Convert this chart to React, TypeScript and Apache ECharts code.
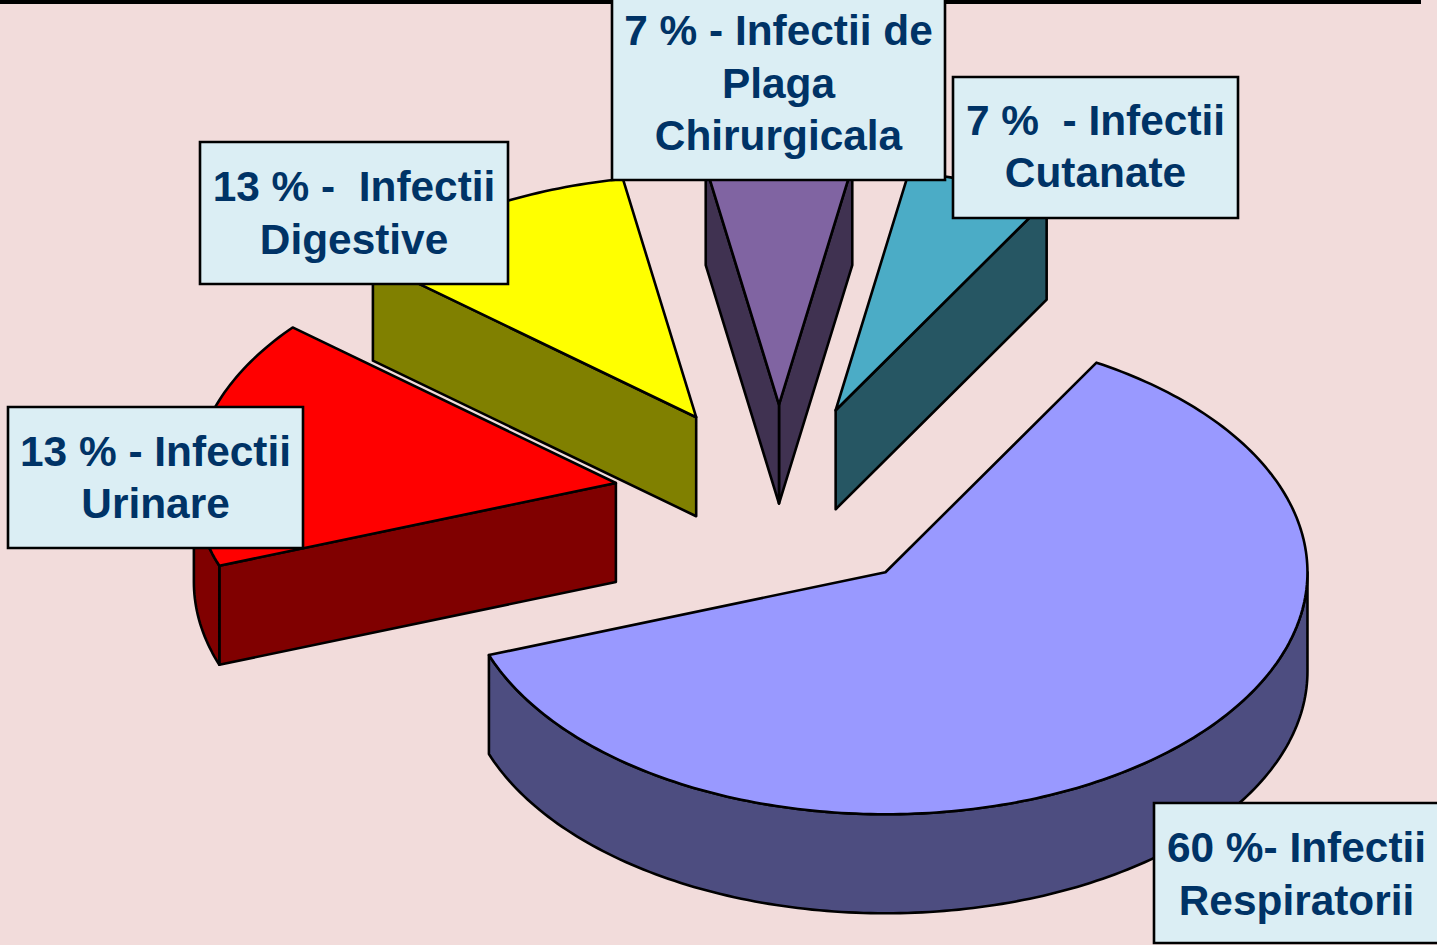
import React, { useEffect, useRef } from "react";
import * as echarts from "echarts";

// Drawn sweep of each wedge (degrees of the pie as pictured), counter-clockwise from the first wedge
const sliceNames = ["Cutanate", "Plaga Chirurgicala", "Digestive", "Urinare", "Respiratorii"];
const sliceSweeps = [20, 20, 40, 60, 220];
const sliceLabels = [
  "7 %  - Infectii\nCutanate",
  "7 % - Infectii de\nPlaga\nChirurgicala",
  "13 % -  Infectii\nDigestive",
  "13 % - Infectii\nUrinare",
  "60 %- Infectii\nRespiratorii",
];
const topColors = ["#4BACC6", "#8064A2", "#FFFF00", "#FF0000", "#9999FF"];
const sideColors = ["#265663", "#403251", "#808000", "#800000", "#4D4D80"];

// Layout of the 3D pie
const firstAngle = 60;
const pieCx = 779;
const pieCy = 499.5;
const rx = 422;
const ry = 242;
const depth = 99;
const explode = 0.3925;
const stroke = { stroke: "#000", lineWidth: 2.6, lineJoin: "round" as const };

// Label boxes: x, y, width, height, text shift
const labelBoxes = [
  [953, 77, 285, 141, -2],
  [612, -6, 333, 186, -5],
  [200, 142, 308, 142, -1],
  [8, 407, 295, 141, -1],
  [1154, 803, 285, 140, 0],
];
const labelFont = 42.4;
const labelLine = 52.5;

const rad = (d: number) => (d * Math.PI) / 180;

function renderSlice(params: any, api: any) {
  const i = params.dataIndex;
  const sweep = api.value(0);
  let t0 = firstAngle;
  for (let k = 0; k < i; k++) t0 += sliceSweeps[k];
  const t1 = t0 + sweep;
  const mid = rad((t0 + t1) / 2);
  const ax = pieCx + explode * rx * Math.cos(mid);
  const ay = pieCy - explode * ry * Math.sin(mid);
  const pt = (t: number, dz = 0) => [ax + rx * Math.cos(rad(t)), ay - ry * Math.sin(rad(t)) + dz];

  const children: any[] = [];
  const side = { fill: sideColors[i], ...stroke };
  const wall = (t: number) =>
    children.push({
      type: "polygon",
      shape: { points: [[ax, ay], pt(t), pt(t, depth), [ax, ay + depth]] },
      style: side,
    });
  if (Math.cos(rad(t0)) > 0) wall(t0);
  if (Math.cos(rad(t1)) < 0) wall(t1);

  // Outer rim: only the part on the lower half of the ellipse faces the viewer
  const rimStart = Math.max(t0, 180);
  const rimEnd = Math.min(t1, 360);
  if (rimEnd > rimStart) {
    const upper: number[][] = [];
    const lower: number[][] = [];
    for (let t = rimStart; t < rimEnd; t += 1) {
      upper.push(pt(t));
      lower.push(pt(t, depth));
    }
    upper.push(pt(rimEnd));
    lower.push(pt(rimEnd, depth));
    children.push({
      type: "polygon",
      shape: { points: upper.concat(lower.reverse()) },
      style: side,
    });
  }

  const top: number[][] = [[ax, ay]];
  for (let t = t0; t < t1; t += 1) top.push(pt(t));
  top.push(pt(t1));
  children.push({ type: "polygon", shape: { points: top }, style: { fill: topColors[i], ...stroke } });

  return { type: "group", children };
}

export default function App() {
  const ref = useRef<HTMLDivElement>(null);
  useEffect(() => {
    const chart = echarts.init(ref.current!, null, { renderer: "svg" });
    const graphics: any[] = [
      { type: "rect", z: 1, shape: { x: 0, y: 0, width: 1421, height: 4 }, style: { fill: "#000" } },
    ];
    sliceLabels.forEach((text, i) => {
      const [x, y, width, height, shift] = labelBoxes[i];
      graphics.push({
        type: "rect",
        z: 10,
        shape: { x, y, width, height },
        style: { fill: "#DBEEF4", stroke: "#000", lineWidth: 2.6 },
      });
      const lines = text.split("\n").length;
      graphics.push({
        type: "text",
        z: 11,
        x: x + width / 2,
        y: y + height / 2 - (lines * labelLine) / 2 + 1 + shift,
        style: {
          text,
          fill: "#003366",
          font: `bold ${labelFont}px "Liberation Sans", Arial, sans-serif`,
          lineHeight: labelLine,
          align: "center",
          verticalAlign: "top",
        },
      });
    });
    chart.setOption({
      animation: false,
      backgroundColor: "#F2DCDB",
      graphic: { elements: graphics },
      series: [
        {
          type: "custom",
          coordinateSystem: "none",
          clip: false,
          silent: true,
          z: 5,
          renderItem: renderSlice,
          data: sliceSweeps.map((value, i) => ({ name: sliceNames[i], value })),
        },
      ],
    });
    return () => chart.dispose();
  }, []);
  return <div ref={ref} style={{ position: "fixed", left: 0, top: 0, width: 1437, height: 945 }} />;
}
